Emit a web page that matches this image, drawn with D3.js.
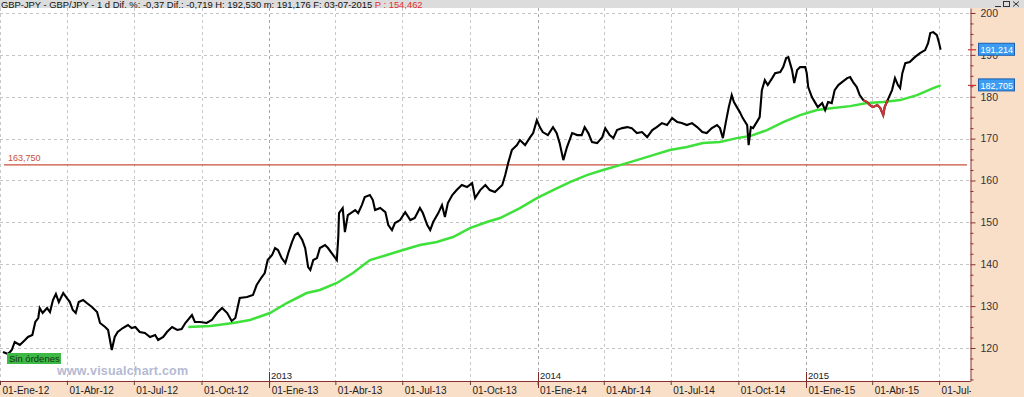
<!DOCTYPE html>
<html><head><meta charset="utf-8">
<script src="https://cdn.jsdelivr.net/npm/d3@7"></script>
<style>
html,body{margin:0;padding:0;background:#fff;overflow:hidden}
svg{display:block}
text{font-family:"Liberation Sans",Arial,sans-serif}
</style></head><body>
<svg id="c" width="1024" height="397"></svg>
<script>
// ---- data ----
const priceDates = [
"2012-01-05","2012-01-12","2012-01-17","2012-01-21","2012-01-28","2012-02-04","2012-02-08","2012-02-14","2012-02-18","2012-02-22",
"2012-02-24","2012-02-28","2012-03-05","2012-03-09","2012-03-13","2012-03-17","2012-03-21","2012-03-27","2012-04-01","2012-04-05",
"2012-04-09","2012-04-13","2012-04-17","2012-04-23","2012-04-28","2012-05-05","2012-05-12","2012-05-16","2012-05-23","2012-05-27",
"2012-06-01","2012-06-05","2012-06-09","2012-06-16","2012-06-23","2012-06-28","2012-07-03","2012-07-09","2012-07-16","2012-07-23",
"2012-07-30","2012-08-03","2012-08-10","2012-08-15","2012-08-22","2012-08-29","2012-09-04","2012-09-09","2012-09-18","2012-09-22",
"2012-09-29","2012-10-08","2012-10-15","2012-10-22","2012-10-29","2012-11-05","2012-11-11","2012-11-16","2012-11-22","2012-12-02",
"2012-12-10","2012-12-15","2012-12-22","2012-12-26","2012-12-30","2013-01-05","2013-01-09","2013-01-13","2013-01-18","2013-01-23",
"2013-01-27","2013-02-01","2013-02-05","2013-02-09","2013-02-15","2013-02-19","2013-02-23","2013-02-26","2013-03-02","2013-03-07",
"2013-03-11","2013-03-18","2013-03-22","2013-03-29","2013-04-03","2013-04-05","2013-04-06","2013-04-11","2013-04-14","2013-04-18",
"2013-04-24","2013-04-28","2013-05-02","2013-05-07","2013-05-11","2013-05-18","2013-05-22","2013-05-25","2013-06-01","2013-06-08",
"2013-06-12","2013-06-17","2013-06-21","2013-06-28","2013-07-05","2013-07-12","2013-07-18","2013-07-25","2013-07-29","2013-08-04",
"2013-08-08","2013-08-12","2013-08-19","2013-08-24","2013-08-28","2013-09-01","2013-09-07","2013-09-13","2013-09-20","2013-09-27",
"2013-10-04","2013-10-08","2013-10-15","2013-10-22","2013-10-28","2013-11-04","2013-11-14","2013-11-18","2013-11-22","2013-11-27",
"2013-12-04","2013-12-08","2013-12-15","2013-12-22","2013-12-26","2013-12-31","2014-01-04","2014-01-08","2014-01-15","2014-01-22",
"2014-01-27","2014-01-31","2014-02-05","2014-02-10","2014-02-17","2014-02-24","2014-03-02","2014-03-06","2014-03-11","2014-03-16",
"2014-03-23","2014-03-30","2014-04-03","2014-04-09","2014-04-14","2014-04-19","2014-04-26","2014-05-03","2014-05-09","2014-05-16",
"2014-05-23","2014-05-30","2014-06-06","2014-06-12","2014-06-19","2014-06-26","2014-07-03","2014-07-10","2014-07-16","2014-07-23",
"2014-07-30","2014-08-06","2014-08-13","2014-08-19","2014-08-26","2014-09-02","2014-09-06","2014-09-10","2014-09-14","2014-09-18",
"2014-09-22","2014-09-25","2014-09-29","2014-10-03","2014-10-07","2014-10-13","2014-10-15","2014-10-18","2014-10-21","2014-10-26",
"2014-10-30","2014-11-02","2014-11-06","2014-11-10","2014-11-16","2014-11-20","2014-11-27","2014-12-01","2014-12-05","2014-12-08",
"2014-12-13","2014-12-16","2014-12-20","2014-12-24","2014-12-31","2015-01-02","2015-01-04","2015-01-09","2015-01-13","2015-01-17",
"2015-01-23","2015-01-27","2015-01-31","2015-02-05","2015-02-09","2015-02-14","2015-02-19","2015-02-26","2015-03-02","2015-03-06",
"2015-03-11","2015-03-15","2015-03-20","2015-03-25","2015-03-29","2015-04-02","2015-04-08","2015-04-12","2015-04-16","2015-04-18",
"2015-04-22","2015-04-28","2015-05-02","2015-05-06","2015-05-09","2015-05-12","2015-05-16","2015-05-22","2015-05-29","2015-06-05",
"2015-06-12","2015-06-16","2015-06-19","2015-06-23","2015-06-28","2015-07-01","2015-07-03"
];
const priceValues = [
119.05,118.57,119.52,121.43,120.72,121.91,122.63,123.10,126.21,127.16,
129.55,128.35,129.55,128.59,131.46,132.89,130.98,133.13,131.93,130.98,
129.07,128.35,130.98,131.46,130.74,129.79,128.59,125.97,125.01,124.30,
119.52,122.63,123.82,124.77,125.49,124.77,125.01,123.82,123.58,122.63,
123.10,121.91,122.63,123.82,125.01,124.30,124.54,125.97,127.88,126.21,
126.21,125.97,126.68,128.35,129.55,128.35,126.45,127.16,131.93,132.17,
132.65,135.04,136.95,137.90,141.00,142.20,143.87,143.39,141.48,140.29,
142.68,145.30,146.97,147.45,145.78,143.87,139.33,138.62,141.00,141.48,
143.87,144.59,143.87,142.20,141.00,146.49,152.22,153.42,147.69,151.75,
152.46,152.94,152.22,154.13,156.04,156.52,155.33,152.94,153.42,152.46,
149.36,148.17,149.84,150.55,152.46,150.55,151.03,153.42,152.22,149.36,
148.17,150.08,152.22,154.13,151.27,154.61,156.52,157.71,158.91,158.43,
159.38,155.80,157.71,158.91,157.71,157.24,158.91,161.29,164.16,167.26,
168.45,169.65,168.45,170.36,171.32,174.42,172.75,171.56,170.84,172.75,
171.32,168.93,164.87,167.98,171.32,170.84,170.84,172.75,171.32,169.17,
168.93,170.36,172.51,170.84,170.12,172.03,172.51,172.75,172.51,171.32,
171.56,170.36,172.03,172.75,173.71,173.23,174.90,173.94,173.71,173.23,
173.71,172.75,171.56,171.32,172.51,173.23,172.51,170.12,173.94,177.52,
180.39,178.72,177.52,176.33,174.90,173.23,168.45,172.75,172.51,173.94,
175.13,181.58,183.97,182.78,184.45,185.64,185.88,187.07,189.22,189.46,
186.36,183.26,186.36,187.07,187.07,185.64,182.30,179.91,178.72,177.52,
178.48,176.81,178.72,178.48,181.58,182.78,183.49,184.45,184.69,183.49,
182.30,180.39,179.20,178.72,178.00,177.52,178.00,177.29,175.61,177.52,
179.20,181.58,184.45,182.78,182.06,185.64,188.03,188.27,189.46,190.42,
191.13,192.80,195.19,195.43,194.71,192.80,191.214
];
const maDates = [
"2012-09-13","2012-10-13","2012-11-13","2012-12-06","2013-01-02","2013-01-25","2013-02-21","2013-03-11","2013-04-03","2013-04-25",
"2013-05-18","2013-06-10","2013-07-02","2013-07-25","2013-08-17","2013-09-08","2013-10-01","2013-10-24","2013-11-11","2013-12-08",
"2013-12-31","2014-01-22","2014-02-14","2014-03-09","2014-03-31","2014-04-23","2014-05-16","2014-06-07","2014-06-30","2014-07-23",
"2014-08-14","2014-09-06","2014-09-29","2014-10-17","2014-11-09","2014-12-01","2014-12-24","2015-01-16","2015-02-07","2015-03-02",
"2015-03-25","2015-04-16","2015-05-09","2015-06-01","2015-06-23","2015-07-03"
];
const maValues = [
125.01,125.25,125.97,126.68,128.35,130.74,133.13,133.85,135.52,137.90,
141.00,142.20,143.39,144.59,145.30,146.49,148.64,150.08,151.03,153.42,
155.80,157.71,159.62,161.29,162.49,163.68,164.87,166.07,167.26,167.98,
168.93,169.17,170.12,170.60,172.03,173.94,175.61,176.81,177.29,177.76,
178.48,178.72,179.20,180.39,182.06,182.705
];
const orderWindow = ["2015-03-20","2015-04-22"];
const yTicks = [120,130,140,150,160,170,180,190,200];
const yMinorTicks = [112.5,115,117.5,122.5,125,127.5,132.5,135,137.5,142.5,145,147.5,152.5,155,157.5,162.5,165,167.5,172.5,175,177.5,182.5,185,187.5,192.5,195,197.5];
const quarterTicks = ["2012-01-01","2012-04-01","2012-07-01","2012-10-01","2013-01-01","2013-04-01","2013-07-01","2013-10-01",
  "2014-01-01","2014-04-01","2014-07-01","2014-10-01","2015-01-01","2015-04-01","2015-07-01"];
const yearTicks = ["2013-01-01","2014-01-01","2015-01-01"];
const monthNames = ["Ene","Feb","Mar","Abr","May","Jun","Jul","Ago","Sep","Oct","Nov","Dic"];
const levelValue = 163.75, levelLabel = "163,750";
const lastClose = 191.214, lastCloseLabel = "191,214";
const lastMA = 182.705, lastMALabel = "182,705";
const headerMain = "GBP-JPY - GBP/JPY -  1 d Dif. %: -0,37 Dif.: -0,719 H: 192,530 m: 191,176 F: 03-07-2015 ";
const headerRed = "P : 154,462";

// ---- drawing ----
const W = 1024, H = 397, PR = 970, PT = 8, PB = 381;
const parse = d3.utcParse("%Y-%m-%d");
const svg = d3.select("#c");
const x = d3.scaleUtc().domain([parse("2012-01-01"), parse("2015-08-12")]).range([0, PR]);
const y = d3.scaleLinear().domain([112.12, 201.19]).range([PB, PT]);
const peach = "#f9dfc8", axisCol = "#8a3030";

const price = priceDates.map((d,i)=>({date:parse(d), v:priceValues[i]}));
const ma = maDates.map((d,i)=>({date:parse(d), v:maValues[i]}));

svg.append("rect").attr("width",W).attr("height",H).attr("fill","#fff");

// grid
const grid = svg.append("g");
grid.selectAll("line.h").data(yTicks).join("line")
  .attr("x1",0).attr("x2",PR).attr("y1",d=>Math.round(y(d))+0.5).attr("y2",d=>Math.round(y(d))+0.5)
  .attr("stroke","#c4c4c4").attr("stroke-dasharray","3,3");
grid.selectAll("line.v").data(quarterTicks).join("line")
  .attr("x1",d=>Math.round(x(parse(d)))+0.5).attr("x2",d=>Math.round(x(parse(d)))+0.5)
  .attr("y1",PT).attr("y2",PB)
  .attr("stroke",d=>yearTicks.includes(d)?"#a8a8a8":"#c8c8c8").attr("stroke-dasharray","3,3");

// level line
svg.append("line").attr("x1",4).attr("x2",967).attr("y1",y(levelValue)).attr("y2",y(levelValue))
  .attr("stroke","#c9503a").attr("stroke-width",1.3);
svg.append("text").attr("x",8).attr("y",y(levelValue)-4).attr("font-size",9).attr("fill","#c9503a").text(levelLabel);

// moving average
const line = d3.line().x(d=>x(d.date)).y(d=>y(d.v));
svg.append("path").datum(ma).attr("d",line).attr("fill","none").attr("stroke","#3ee03a").attr("stroke-width",2.5);

// price
svg.append("path").datum(price).attr("d",line).attr("fill","none").attr("stroke","#000").attr("stroke-width",2.1).attr("stroke-linejoin","miter");
const w0 = parse(orderWindow[0]), w1 = parse(orderWindow[1]);
svg.append("path").datum(price.filter(d=>d.date>=w0 && d.date<=w1)).attr("d",line)
  .attr("fill","none").attr("stroke","#d03535").attr("stroke-width",2.1);

// watermark and status
svg.append("text").attr("x",57).attr("y",375).attr("font-size",12.5).attr("font-weight","bold")
  .attr("fill","#b4bad2").attr("textLength",131).text("www.visualchart.com");
svg.append("rect").attr("x",7).attr("y",353).attr("width",54).attr("height",11).attr("fill","#3dba45");
svg.append("text").attr("x",9).attr("y",362).attr("font-size",9.5).attr("fill","#143014").text("Sin órdenes");

// bottom panel
svg.append("rect").attr("x",0).attr("y",PB).attr("width",W).attr("height",H-PB).attr("fill",peach);
const fmt = d=>"01-"+monthNames[d.getUTCMonth()]+"-"+String(d.getUTCFullYear()).slice(2);
const xAxis = svg.append("g").attr("transform",`translate(0,${PB})`)
  .call(d3.axisBottom(x).tickValues(quarterTicks.map(parse)).tickSize(4).tickSizeOuter(0).tickFormat(fmt));
xAxis.select(".domain").attr("stroke",axisCol);
xAxis.selectAll(".tick line").attr("stroke","#6a3a3a");
xAxis.selectAll(".tick text").attr("text-anchor","start").attr("x",2).attr("y",13).attr("dy",null)
  .attr("font-size",10).attr("fill","#222").attr("font-family","Liberation Sans, Arial, sans-serif");
// year markers
const yr = svg.append("g");
yr.selectAll("line").data(yearTicks).join("line")
  .attr("x1",d=>Math.round(x(parse(d)))+0.5).attr("x2",d=>Math.round(x(parse(d)))+0.5)
  .attr("y1",372).attr("y2",388).attr("stroke","#7a2a2a");
yr.selectAll("text").data(yearTicks).join("text")
  .attr("x",d=>Math.round(x(parse(d)))+2).attr("y",379).attr("font-size",9.5).attr("fill","#222")
  .text(d=>d.slice(0,4));

// right panel
svg.append("rect").attr("x",PR+1).attr("y",PT).attr("width",W-PR-1).attr("height",H-PT).attr("fill",peach);
const yAxis = svg.append("g").attr("transform",`translate(${PR+0.5},0)`)
  .call(d3.axisRight(y).tickValues(yTicks).tickSize(5).tickPadding(5).tickSizeOuter(0).tickFormat(d3.format("d")));
yAxis.select(".domain").attr("stroke",axisCol);
yAxis.selectAll(".tick line").attr("stroke",axisCol);
yAxis.selectAll(".tick text").attr("font-size",10.5).attr("fill","#333").attr("font-family","Liberation Sans, Arial, sans-serif");
const yMinor = svg.append("g").attr("transform",`translate(${PR+0.5},0)`)
  .call(d3.axisRight(y).tickValues(yMinorTicks).tickSize(3).tickFormat(""));
yMinor.select(".domain").remove();
yMinor.selectAll(".tick line").attr("stroke",axisCol);

// last value boxes
[[lastClose,lastCloseLabel],[lastMA,lastMALabel]].forEach(([v,l])=>{
  const yy = y(v);
  svg.append("line").attr("x1",PR-2).attr("x2",PR+6).attr("y1",yy).attr("y2",yy).attr("stroke","#d03030").attr("stroke-width",1.2);
  svg.append("rect").attr("x",978.5).attr("y",yy-6.5).attr("width",36).attr("height",12)
    .attr("fill","#3c9cf2").attr("stroke","#1d5fae").attr("stroke-width",1);
  svg.append("text").attr("x",980.5).attr("y",yy+3.5).attr("font-size",9).attr("fill","#fff").text(l);
});

// header bar
svg.append("rect").attr("x",0).attr("y",0).attr("width",W).attr("height",PT).attr("fill","#dcdcdc");
const ht = svg.append("text").attr("x",1).attr("y",7.5).attr("font-size",9.4).attr("fill","#111");
ht.append("tspan").text(headerMain);
ht.append("tspan").attr("fill","#e03030").text(headerRed);
// window buttons
const b = svg.append("g").attr("stroke","#333").attr("fill","none");
b.append("line").attr("x1",995).attr("x2",1001).attr("y1",6.5).attr("y2",6.5);
b.append("rect").attr("x",1003.5).attr("y",1.5).attr("width",6).attr("height",5);
b.append("line").attr("x1",1013).attr("x2",1019).attr("y1",1.5).attr("y2",6.5);
b.append("line").attr("x1",1019).attr("x2",1013).attr("y1",1.5).attr("y2",6.5);
</script>
</body></html>
